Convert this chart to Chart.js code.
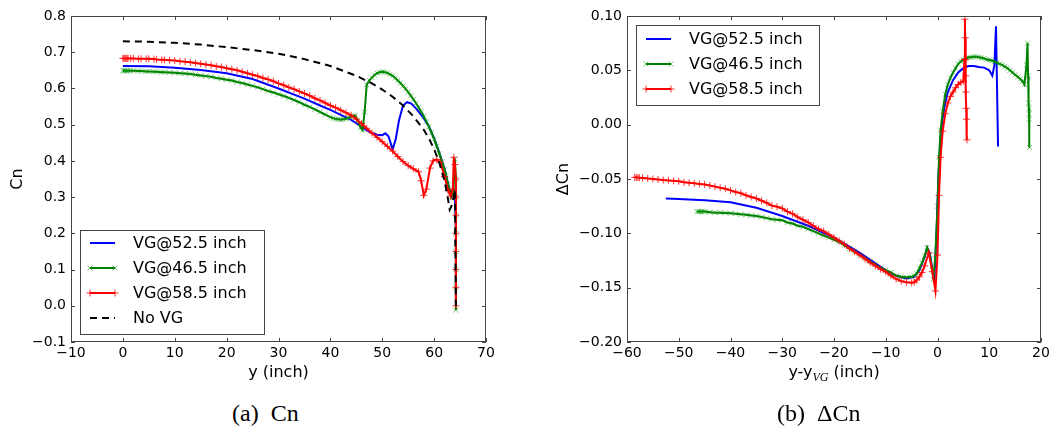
<!DOCTYPE html>
<html>
<head>
<meta charset="utf-8">
<script src="https://cdn.jsdelivr.net/npm/chart.js@4.4.0/dist/chart.umd.min.js"></script>
<style>
body { margin: 0; background: #fff; width: 1062px; height: 430px; position: relative; overflow: hidden; }
canvas { position: absolute; top: 0; }
#cn { left: 0; }
#dcn { left: 531px; }
.cap { position: absolute; top: 399px; font-family: "Liberation Serif", serif; font-size: 24px; line-height: 28px; white-space: nowrap; }
.cap span { margin-left: 12px; }
#xlab2 { position: absolute; top: 362px; left: 770px; width: 128px; text-align: center; font-family: "DejaVu Sans", sans-serif; font-size: 16px; line-height: 20px; white-space: nowrap; }
#xlab2 i { font-family: "Liberation Serif", serif; font-size: 12px; position: relative; top: 4px; }
</style>
</head>
<body>
<canvas id="cn" width="531" height="390"></canvas>
<canvas id="dcn" width="531" height="390"></canvas>
<div id="xlab2">y-y<i>VG</i> (inch)</div>
<div class="cap" style="left:232px">(a)<span>Cn</span></div>
<div class="cap" style="left:777px">(b)<span>ΔCn</span></div>
<script>
// ---- (a) Cn along the span
const cnTicksX = [-10, 0, 10, 20, 30, 40, 50, 60, 70];
const cnTicksY = [-0.1, 0.0, 0.1, 0.2, 0.3, 0.4, 0.5, 0.6, 0.7, 0.8];

const vg52X = [0, 5, 10, 15, 20, 25, 30, 35, 38, 40, 42, 44, 45, 46, 47, 48, 49, 50, 50.6, 51.2, 52, 52.6, 53.2, 54, 54.8, 55.6, 56.5, 58, 59, 60, 61, 62, 62.8, 63.3, 63.7, 64.0, 64.2, 64.2];
const vg52Y = [0.662, 0.661, 0.657, 0.651, 0.642, 0.626, 0.600, 0.572, 0.553, 0.541, 0.527, 0.513, 0.504, 0.494, 0.485, 0.477, 0.472, 0.471, 0.476, 0.468, 0.432, 0.460, 0.510, 0.553, 0.562, 0.558, 0.545, 0.518, 0.495, 0.462, 0.422, 0.378, 0.330, 0.305, 0.325, 0.310, 0.200, 0.000];

const vg46X = [0, 0.2, 0.4, 0.6, 0.8, 1, 1.5, 2, 3, 3.5, 4.5, 5, 6, 6.5, 7.5, 8, 9, 10, 11, 12, 13, 14, 15, 16, 17, 18, 19, 20, 21, 22, 23, 24, 25, 26, 27, 28, 29, 30, 31, 32, 33, 34, 35, 36, 37, 38, 39, 40, 40.5, 41, 41.5, 42, 42.5, 43, 43.5, 44, 44.4, 44.8, 45.3, 45.8, 46.2, 46.6, 47.0, 47.5, 48, 48.5, 49, 49.5, 50, 50.5, 51, 51.5, 52, 52.5, 53, 53.5, 54, 54.5, 55, 55.5, 56, 56.5, 57, 57.5, 58, 58.5, 59, 59.5, 60, 60.5, 61, 61.5, 62, 62.3, 62.7, 63.0, 63.3, 63.7, 64.0, 64.2, 64.2, 64.2, 64.2, 64.2, 64.2, 64.2, 64.2];
const vg46Y = [0.649, 0.649, 0.649, 0.649, 0.649, 0.649, 0.649, 0.649, 0.648, 0.648, 0.647, 0.647, 0.646, 0.646, 0.645, 0.645, 0.644, 0.643, 0.642, 0.641, 0.640, 0.638, 0.636, 0.634, 0.632, 0.629, 0.627, 0.624, 0.622, 0.618, 0.615, 0.611, 0.607, 0.603, 0.598, 0.593, 0.589, 0.584, 0.579, 0.574, 0.568, 0.562, 0.555, 0.549, 0.542, 0.535, 0.528, 0.521, 0.518, 0.516, 0.515, 0.514, 0.515, 0.516, 0.519, 0.522, 0.524, 0.525, 0.512, 0.492, 0.485, 0.535, 0.610, 0.622, 0.630, 0.637, 0.642, 0.645, 0.646, 0.645, 0.643, 0.639, 0.635, 0.629, 0.622, 0.615, 0.607, 0.599, 0.590, 0.580, 0.570, 0.559, 0.548, 0.536, 0.523, 0.509, 0.494, 0.478, 0.460, 0.441, 0.420, 0.398, 0.376, 0.360, 0.335, 0.318, 0.300, 0.315, 0.405, 0.350, 0.300, 0.250, 0.200, 0.150, 0.100, 0.050, -0.012];

const vg58X = [0, 0.2, 0.4, 0.6, 0.8, 1, 1.5, 2, 3, 3.5, 4.5, 5, 6, 6.5, 7.5, 8, 9, 10, 11, 12, 13, 14, 15, 16, 17, 18, 19, 20, 21, 22, 23, 24, 25, 26, 27, 28, 29, 30, 31, 32, 33, 34, 35, 36, 37, 38, 39, 40, 41, 42, 43, 44, 45, 46, 47, 48, 49, 50, 51, 52, 53, 54, 55, 56, 57, 57.5, 58, 58.5, 59.2, 59.8, 60.5, 61.2, 62, 62.7, 63.2, 63.6, 63.8, 64.0, 64.2, 64.2, 64.2, 64.2, 64.2, 64.2, 64.2, 64.2];
const vg58Y = [0.683, 0.683, 0.683, 0.683, 0.683, 0.683, 0.683, 0.683, 0.682, 0.682, 0.682, 0.682, 0.681, 0.680, 0.679, 0.679, 0.678, 0.677, 0.675, 0.674, 0.672, 0.670, 0.668, 0.666, 0.664, 0.661, 0.659, 0.656, 0.653, 0.650, 0.646, 0.642, 0.638, 0.634, 0.629, 0.625, 0.620, 0.614, 0.609, 0.603, 0.598, 0.592, 0.586, 0.580, 0.573, 0.567, 0.560, 0.553, 0.547, 0.540, 0.533, 0.526, 0.515, 0.503, 0.490, 0.477, 0.465, 0.453, 0.440, 0.427, 0.412, 0.398, 0.387, 0.378, 0.370, 0.345, 0.305, 0.322, 0.380, 0.400, 0.404, 0.396, 0.357, 0.318, 0.303, 0.322, 0.410, 0.390, 0.350, 0.300, 0.250, 0.200, 0.150, 0.100, 0.050, 0.000];

const noVgX = [0, 5, 10, 15, 20, 25, 30, 35, 40, 45, 48, 50, 52, 54, 56, 58, 59, 60, 61, 62, 62.5, 63.0, 63.5, 64.0, 64.2];
const noVgY = [0.730, 0.729, 0.726, 0.721, 0.714, 0.706, 0.696, 0.681, 0.662, 0.635, 0.614, 0.597, 0.577, 0.553, 0.523, 0.486, 0.462, 0.432, 0.395, 0.345, 0.310, 0.265, 0.280, 0.320, 0.000];

// ---- (b) delta Cn relative to the VG position
const dTicksX = [-60, -50, -40, -30, -20, -10, 0, 10, 20];
const dTicksY = [-0.20, -0.15, -0.10, -0.05, 0.00, 0.05, 0.10];

const d52X = [-52.5, -50, -45, -40, -35, -30, -25, -20, -15, -10, -8, -6, -4.5, -3.5, -2.5, -2, -1.5, -1, -0.6, -0.2, 0.2, 0.6, 1, 1.5, 2, 3, 4, 5, 6, 7, 8, 9, 10, 10.6, 11.0, 11.3, 11.7];
const d52Y = [-0.068, -0.0685, -0.0695, -0.0715, -0.0765, -0.084, -0.093, -0.104, -0.118, -0.134, -0.139, -0.1415, -0.140, -0.134, -0.122, -0.1135, -0.118, -0.133, -0.143, -0.100, -0.045, -0.012, 0.006, 0.020, 0.030, 0.041, 0.048, 0.052, 0.054, 0.054, 0.053, 0.0525, 0.050, 0.045, 0.055, 0.0905, -0.020];

const d46X = [-46.5, -46.2, -45.9, -45.6, -45.3, -45, -44, -43, -42, -41, -40, -39, -38, -37, -36, -35, -34, -33, -32, -31, -30, -29, -28, -27, -26, -25, -24, -23, -22, -21, -20, -19, -18, -17, -16, -15, -14, -13, -12, -11, -10, -9, -8, -7, -6, -5, -4.5, -4, -3.5, -3, -2.5, -2, -1.5, -1, -0.8, -0.4, 0, 0.3, 0.6, 1, 1.5, 2, 2.5, 3, 3.5, 4, 4.5, 5, 5.5, 6, 6.5, 7, 7.5, 8, 8.5, 9, 9.5, 10, 10.5, 11, 11.5, 12, 12.5, 13, 13.5, 14, 14.5, 15, 15.5, 16, 16.4, 16.8, 17.2, 17.4, 17.5, 17.6, 17.7, 17.7, 17.7, 17.8];
const d46Y = [-0.080, -0.080, -0.080, -0.080, -0.080, -0.080, -0.0805, -0.081, -0.081, -0.0812, -0.0815, -0.082, -0.0825, -0.083, -0.0835, -0.084, -0.085, -0.086, -0.087, -0.0875, -0.088, -0.090, -0.091, -0.093, -0.094, -0.096, -0.098, -0.100, -0.102, -0.104, -0.106, -0.108, -0.111, -0.114, -0.117, -0.120, -0.123, -0.126, -0.129, -0.132, -0.134, -0.136, -0.139, -0.140, -0.1405, -0.140, -0.139, -0.137, -0.132, -0.127, -0.121, -0.113, -0.120, -0.134, -0.1425, -0.120, -0.075, -0.030, -0.005, 0.012, 0.028, 0.037, 0.043, 0.048, 0.052, 0.056, 0.058, 0.060, 0.061, 0.062, 0.062, 0.0625, 0.0625, 0.062, 0.0615, 0.061, 0.060, 0.0595, 0.059, 0.058, 0.057, 0.056, 0.055, 0.0535, 0.052, 0.050, 0.048, 0.046, 0.044, 0.042, 0.040, 0.037, 0.055, 0.075, 0.045, 0.020, 0.010, 0.015, 0.005, -0.021];

const d58X = [-58.5, -58.2, -57.9, -57.6, -57, -56, -55, -54, -53, -52, -51, -50, -49, -48, -47, -46, -45, -44, -43, -42, -41, -40, -39, -38, -37, -36, -35, -34, -33, -32, -31, -30, -29, -28, -27, -26, -25, -24, -23, -22, -21, -20, -19, -18, -17, -16, -15, -14, -13, -12, -11, -10, -9, -8, -7, -6, -5, -4.5, -4, -3.5, -3, -2.5, -1.7, -1, -0.4, 0, 0.3, 0.6, 1, 1.5, 2, 2.5, 3, 3.5, 4, 4.5, 5, 5.2, 5.3, 5.35, 5.4, 5.45, 5.5, 5.55, 5.6, 5.7];
const d58Y = [-0.0485, -0.0485, -0.0487, -0.0488, -0.049, -0.0495, -0.050, -0.0505, -0.051, -0.0513, -0.0517, -0.052, -0.053, -0.0535, -0.054, -0.0545, -0.055, -0.056, -0.057, -0.058, -0.059, -0.0605, -0.062, -0.063, -0.065, -0.0665, -0.068, -0.070, -0.072, -0.0745, -0.0755, -0.077, -0.080, -0.082, -0.085, -0.0875, -0.090, -0.093, -0.096, -0.098, -0.101, -0.104, -0.107, -0.110, -0.114, -0.117, -0.120, -0.1235, -0.127, -0.130, -0.133, -0.1355, -0.139, -0.142, -0.144, -0.145, -0.1455, -0.145, -0.143, -0.140, -0.136, -0.130, -0.118, -0.135, -0.153, -0.120, -0.065, -0.030, -0.006, 0.010, 0.020, 0.026, 0.030, 0.034, 0.037, 0.039, 0.040, 0.060, 0.097, 0.080, 0.060, 0.045, 0.030, 0.015, 0.005, -0.014];

const BLUE = '#0000ff', GREEN = '#008000', RED = '#ff0000';

function pts(xs, ys) {
    return xs.map((x, i) => ({ x: x, y: ys[i] }));
}

function minus(s) {
    return String(s).replace('-', '\u2212');
}

function series(label, xs, ys, color, style, order) {
    const ds = {
        label: label,
        data: pts(xs, ys),
        borderColor: color,
        borderWidth: 2,
        pointRadius: 0,
        tension: 0,
        order: order,
        clip: 2
    };
    if (style === 'x') {
        ds.pointStyle = 'crossRot';
        ds.pointRadius = 3.5;
        ds.pointBorderWidth = 1;
        ds.pointBorderColor = 'rgba(0,150,0,0.55)';
    } else if (style === '+') {
        ds.pointStyle = 'cross';
        ds.pointRadius = 3.5;
        ds.pointBorderWidth = 1;
        ds.pointBorderColor = 'rgba(255,0,0,0.8)';
    } else if (style === '--') {
        ds.borderDash = [7, 5];
    }
    return ds;
}

// frame with inward ticks on all four sides, like the matplotlib classic style
const framePlugin = {
    id: 'frame',
    afterDatasetsDraw(chart) {
        const { ctx, chartArea: a, scales } = chart;
        ctx.save();
        ctx.strokeStyle = '#444';
        ctx.lineWidth = 1;
        ctx.strokeRect(a.left + 0.5, a.top + 0.5, a.right - a.left - 1, a.bottom - a.top - 1);
        ctx.beginPath();
        scales.x.ticks.forEach(t => {
            const px = Math.round(scales.x.getPixelForValue(t.value)) + 0.5;
            ctx.moveTo(px, a.bottom); ctx.lineTo(px, a.bottom - 4);
            ctx.moveTo(px, a.top); ctx.lineTo(px, a.top + 4);
        });
        scales.y.ticks.forEach(t => {
            const py = Math.round(scales.y.getPixelForValue(t.value)) + 0.5;
            ctx.moveTo(a.left, py); ctx.lineTo(a.left + 4, py);
            ctx.moveTo(a.right, py); ctx.lineTo(a.right - 4, py);
        });
        ctx.stroke();
        ctx.restore();
    }
};

// legend box inside the axes, drawn like matplotlib (line + two markers)
const boxLegendPlugin = {
    id: 'boxLegend',
    afterDraw(chart, args, opts) {
        const { ctx, chartArea: a } = chart;
        const bx = a.left + opts.dx;
        const by = opts.fromBottom ? a.bottom - opts.dy - opts.h : a.top + opts.dy;
        ctx.save();
        ctx.fillStyle = '#fff';
        ctx.fillRect(bx, by, opts.w, opts.h);
        ctx.strokeStyle = '#444';
        ctx.lineWidth = 1;
        ctx.strokeRect(bx + 0.5, by + 0.5, opts.w, opts.h);
        ctx.font = '16px "DejaVu Sans"';
        ctx.textBaseline = 'middle';
        opts.items.forEach((idx, r) => {
            const ds = chart.data.datasets[idx];
            const cy = by + opts.first + r * 25;
            ctx.strokeStyle = ds.borderColor;
            ctx.lineWidth = 2;
            ctx.setLineDash(ds.borderDash || []);
            ctx.beginPath();
            ctx.moveTo(bx + 10, cy);
            ctx.lineTo(bx + 35, cy);
            ctx.stroke();
            ctx.setLineDash([]);
            if (ds.pointRadius > 0) {
                ctx.strokeStyle = ds.pointBorderColor;
                ctx.lineWidth = 1;
                [bx + 10, bx + 35].forEach(px => {
                    Chart.helpers.drawPoint(ctx, { pointStyle: ds.pointStyle, radius: 3.5, rotation: 0, borderWidth: 1 }, px, cy);
                });
            }
            ctx.fillStyle = '#000';
            ctx.fillText(ds.label, bx + 53, cy + 1);
        });
        ctx.restore();
    }
};

function axisOpts(ticks, min, max, extra) {
    return Object.assign({
        type: 'linear',
        min: min,
        max: max,
        grid: { display: false, drawTicks: false },
        border: { display: false },
        afterBuildTicks: s => { s.ticks = ticks.map(v => ({ value: v })); }
    }, extra);
}

function tickOpts(digits, pad) {
    return {
        color: '#000',
        font: { family: 'DejaVu Sans', size: 14 },
        padding: pad,
        maxRotation: 0,
        autoSkip: false,
        callback: v => minus(v.toFixed(digits))
    };
}

Chart.defaults.font.family = 'DejaVu Sans';

new Chart(document.getElementById('cn'), {
    type: 'line',
    data: {
        datasets: [
            series('VG@52.5 inch', vg52X, vg52Y, BLUE, '-', 3),
            series('VG@46.5 inch', vg46X, vg46Y, GREEN, 'x', 2),
            series('VG@58.5 inch', vg58X, vg58Y, RED, '+', 1),
            series('No VG', noVgX, noVgY, '#000', '--', 0)
        ]
    },
    options: {
        responsive: false,
        animation: false,
        events: [],
        devicePixelRatio: 1,
        layout: { padding: { top: 16, right: 45, bottom: 0, left: 0 } },
        plugins: {
            legend: { display: false },
            tooltip: { enabled: false },
            boxLegend: { dx: 9, dy: 8, h: 104, w: 184, fromBottom: true, first: 13, items: [0, 1, 2, 3] }
        },
        scales: {
            x: axisOpts(cnTicksX, -10, 70, {
                ticks: tickOpts(0, 3),
                title: { display: true, text: 'y (inch)', color: '#000', font: { size: 16 }, padding: { top: 0, bottom: 8 } },
                afterFit: s => { s.height = 48; }
            }),
            y: axisOpts(cnTicksY, -0.1, 0.8, {
                ticks: tickOpts(1, 5),
                title: { display: true, text: 'Cn', color: '#000', font: { size: 16 }, padding: { top: 8, bottom: 0 } },
                afterFit: s => { s.width = 71; }
            })
        }
    },
    plugins: [framePlugin, boxLegendPlugin]
});

new Chart(document.getElementById('dcn'), {
    type: 'line',
    data: {
        datasets: [
            series('VG@52.5 inch', d52X, d52Y, BLUE, '-', 3),
            series('VG@46.5 inch', d46X, d46Y, GREEN, 'x', 2),
            series('VG@58.5 inch', d58X, d58Y, RED, '+', 1)
        ]
    },
    options: {
        responsive: false,
        animation: false,
        events: [],
        devicePixelRatio: 1,
        layout: { padding: { top: 16, right: 21, bottom: 0, left: 0 } },
        plugins: {
            legend: { display: false },
            tooltip: { enabled: false },
            boxLegend: { dx: 9, dy: 9, h: 80, w: 183, fromBottom: false, first: 14, items: [0, 1, 2] }
        },
        scales: {
            x: axisOpts(dTicksX, -60, 20, {
                ticks: tickOpts(0, 3),
                afterFit: s => { s.height = 48; }
            }),
            y: axisOpts(dTicksY, -0.2, 0.1, {
                ticks: tickOpts(2, 5),
                title: { display: true, text: 'ΔCn', color: '#000', font: { size: 16 }, padding: { top: 23, bottom: 0 } },
                afterFit: s => { s.width = 96; }
            })
        }
    },
    plugins: [framePlugin, boxLegendPlugin]
});
</script>
</body>
</html>
